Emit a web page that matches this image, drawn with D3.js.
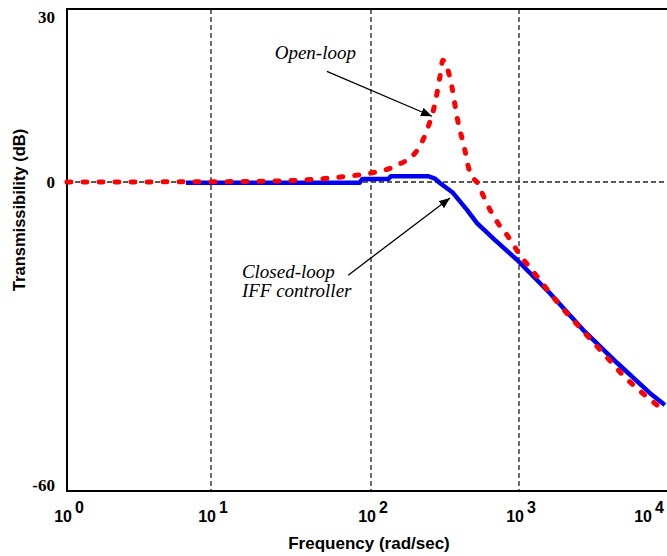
<!DOCTYPE html>
<html><head><meta charset="utf-8">
<script src="https://cdn.jsdelivr.net/npm/d3@7"></script>
<style>body{margin:0;background:#fff}svg{display:block}</style>
</head><body><svg id="c" width="667" height="556"></svg>
<script>
// ---- data ----
const decades = [1, 10, 100, 1000, 10000];
const gridFreqs = [10, 100, 1000];
const yTickValues = [30, 0, -60];
const xTitle = "Frequency (rad/sec)";
const yTitle = "Transmissibility (dB)";

const openFreq = [1, 10, 28, 71, 102, 150, 205, 243, 271, 292, 306, 352, 381, 431, 452, 504, 520, 562, 637, 721, 830, 985, 1344, 1835, 2585, 3697, 5200, 7447, 9680];
const openDb   = [0, 0.05, 0.2, 1.0, 1.6, 2.9, 5.5, 9.5, 13.7, 18.2, 21.1, 16.5, 11.3, 5.5, 2.9, 0.3, 0, -2.1, -5.4, -8.0, -10.3, -13.6, -18.6, -23.5, -28.3, -33.2, -37.9, -41.9, -44.5];

const closedFreq = [6.7, 10, 85, 88, 131, 136, 243, 270, 292, 358, 445, 520, 689, 968, 1618, 2706, 4592, 7676, 9680];
const closedDb   = [-0.15, -0.15, -0.15, 0.5, 0.5, 1.0, 1.0, 0.6, -0.2, -2.1, -5.4, -8.0, -11.3, -15.1, -21.6, -28.7, -35.1, -41.0, -43.3];

const annotationLines = [["Open-loop"], ["Closed-loop", "IFF controller"]];
const annotationTextAt = [[25, 21.3], [15.6, -18.6]];      // [freq, dB] of first baseline
const arrowFrom = [[53, 19.2], [72, -18.1]];
const arrowTo   = [[258, 11.4], [342, -3.1]];

// ---- scales ----
const svg = d3.select("#c");
const x = d3.scaleLog().domain(decades).range([67, 211, 371, 519, 667]);
const y = d3.scaleLinear().domain([-60, 0, 30]).range([491, 182, 9]);
const [x0, x1] = [x(decades[0]), x(decades[decades.length - 1])];
const [yTop, yBot] = [y(30), y(-60)];

svg.append("rect").attr("width", 667).attr("height", 556).attr("fill", "#fff");

// grid
const gridStyle = s => s.attr("stroke", "#222").attr("stroke-width", 1.3).attr("stroke-dasharray", "5,3");
svg.append("g").selectAll("line").data(gridFreqs).join("line")
  .attr("x1", d => x(d)).attr("x2", d => x(d)).attr("y1", yTop).attr("y2", yBot)
  .call(gridStyle);
svg.append("line").attr("x1", x0).attr("x2", x1).attr("y1", y(0)).attr("y2", y(0)).call(gridStyle);

// frame (top, left, bottom)
svg.append("path")
  .attr("d", `M${x1},${yTop}H${x0}V${yBot}H${x1}`)
  .attr("fill", "none").attr("stroke", "#000").attr("stroke-width", 2);

// curves
const line = d3.line().x(d => x(d[0])).y(d => y(d[1]));
svg.append("path")
  .datum(d3.zip(closedFreq, closedDb))
  .attr("d", line.curve(d3.curveLinear))
  .attr("fill", "none").attr("stroke", "#0000f0").attr("stroke-width", 4.5).attr("stroke-linejoin", "round");
svg.append("path")
  .datum(d3.zip(openFreq, openDb))
  .attr("d", line.curve(d3.curveMonotoneX))
  .attr("fill", "none").attr("stroke", "#ff0000").attr("stroke-width", 5)
  .attr("stroke-linecap", "round").attr("stroke-dasharray", "4,12");

// x tick labels
const xl = svg.append("g").attr("font-family", "'Liberation Sans', Arial, sans-serif")
  .attr("font-weight", "bold").attr("font-size", 16).attr("fill", "#000");
decades.forEach(d => {
  const px = Math.min(x(d) + 5, 652);
  xl.append("text").attr("x", px).attr("y", 522).attr("text-anchor", "end").text("10");
  xl.append("text").attr("x", px + 3).attr("y", 513).attr("text-anchor", "start").text(String(Math.round(Math.log10(d))));
});

// y tick labels
svg.append("g").selectAll("text").data(yTickValues).join("text")
  .attr("x", 55).attr("y", d => Math.max(17, Math.min(485, y(d))) + 6)
  .attr("text-anchor", "end")
  .attr("font-family", "'Liberation Serif', 'Times New Roman', serif")
  .attr("font-weight", "bold").attr("font-size", 17)
  .text(d => d);

// axis titles
svg.append("text").attr("x", 369).attr("y", 549).attr("text-anchor", "middle")
  .attr("font-family", "'Liberation Sans', Arial, sans-serif").attr("font-weight", "bold").attr("font-size", 17)
  .text(xTitle);
svg.append("text").attr("transform", "translate(25,210) rotate(-90)").attr("text-anchor", "middle")
  .attr("font-family", "'Liberation Sans', Arial, sans-serif").attr("font-weight", "bold").attr("font-size", 16.5)
  .text(yTitle);

// annotations
svg.append("defs").append("marker").attr("id", "ah")
  .attr("markerUnits", "userSpaceOnUse").attr("markerWidth", 12).attr("markerHeight", 10)
  .attr("refX", 11).attr("refY", 4.5).attr("orient", "auto")
  .append("path").attr("d", "M0,0L11,4.5L0,9Z").attr("fill", "#000");

annotationLines.forEach((lines, i) => {
  const t = svg.append("text")
    .attr("font-family", "'Liberation Serif', 'Times New Roman', serif")
    .attr("font-style", "italic").attr("font-size", 19).attr("fill", "#000");
  lines.forEach((s, j) => {
    t.append("tspan").attr("x", x(annotationTextAt[i][0]))
      .attr("y", y(annotationTextAt[i][1]) + j * 19).text(s);
  });
  svg.append("line")
    .attr("x1", x(arrowFrom[i][0])).attr("y1", y(arrowFrom[i][1]))
    .attr("x2", x(arrowTo[i][0])).attr("y2", y(arrowTo[i][1]))
    .attr("stroke", "#000").attr("stroke-width", 1.3).attr("marker-end", "url(#ah)");
});
</script></body></html>
